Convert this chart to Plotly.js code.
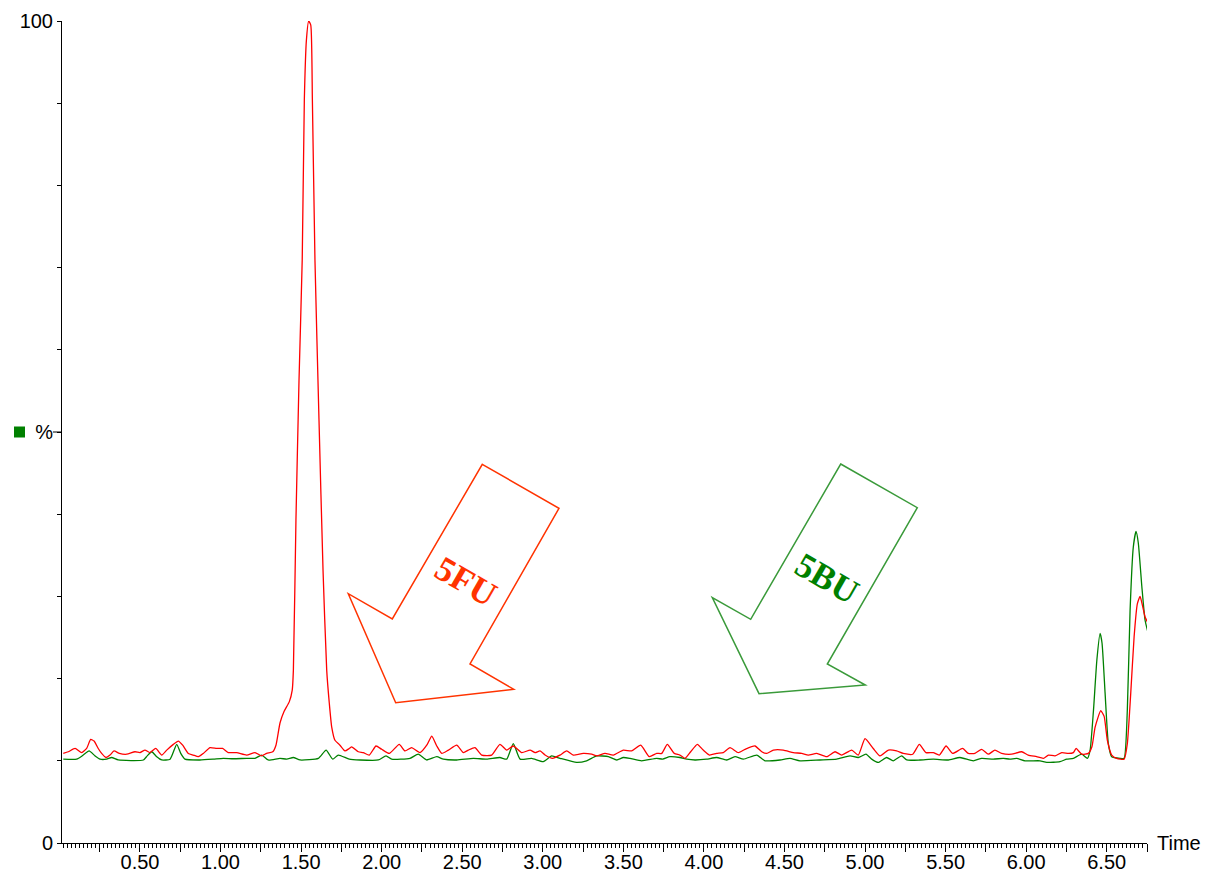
<!DOCTYPE html>
<html>
<head>
<meta charset="utf-8">
<script src="https://cdn.plot.ly/plotly-3.0.1.min.js"></script>
<style>
  html, body { margin: 0; padding: 0; background: #ffffff; }
  #chart { width: 1207px; height: 876px; }
</style>
</head>
<body>
<div id="chart"></div>
<script>
// ---- Data (time in minutes, relative intensity %) ----
const tRed = [0.024,0.055,0.097,0.138,0.169,0.194,0.215,0.241,0.262,0.289,0.314,0.339,0.372,0.418,0.469,0.500,0.531,0.562,0.598,0.635,0.666,0.707,0.738,0.765,0.800,0.831,0.862,0.893,0.935,0.976,1.013,1.048,1.100,1.162,1.214,1.255,1.286,1.324,1.344,1.369,1.394,1.427,1.445,1.452,1.468,1.487,1.507,1.520,1.533,1.547,1.560,1.570,1.586,1.611,1.636,1.659,1.675,1.690,1.710,1.741,1.772,1.799,1.814,1.855,1.886,1.923,1.965,2.000,2.047,2.109,2.145,2.186,2.238,2.283,2.311,2.342,2.373,2.414,2.466,2.507,2.538,2.579,2.621,2.683,2.734,2.776,2.817,2.869,2.921,2.952,2.983,3.014,3.061,3.107,3.148,3.189,3.251,3.303,3.335,3.386,3.438,3.500,3.552,3.608,3.661,3.707,3.738,3.773,3.816,3.851,3.883,3.918,3.959,3.996,4.034,4.079,4.120,4.162,4.213,4.255,4.317,4.359,4.390,4.431,4.493,4.555,4.607,4.648,4.700,4.762,4.814,4.855,4.917,4.958,5.000,5.051,5.093,5.145,5.196,5.237,5.296,5.337,5.378,5.424,5.461,5.503,5.544,5.606,5.641,5.682,5.724,5.765,5.806,5.848,5.910,5.972,6.013,6.065,6.107,6.138,6.179,6.221,6.262,6.293,6.310,6.345,6.386,6.408,6.428,6.463,6.484,6.504,6.531,6.562,6.608,6.628,6.649,6.670,6.690,6.707,6.724,6.738,6.755];
const pctRed = [10.9,11.1,11.5,11.0,11.5,12.6,12.4,11.5,10.9,10.4,10.7,11.2,10.9,10.8,11.1,11.0,11.3,11.0,11.5,10.7,11.3,12.0,12.4,11.9,10.9,10.7,10.5,10.9,11.6,11.5,11.5,11.0,11.0,10.7,11.0,10.6,10.9,11.1,11.9,14.6,16.0,17.2,18.6,21.0,39.3,56.3,71.0,90.4,97.7,100,99.5,90.4,70.9,51.5,33.2,21.0,17.0,14.1,12.5,11.9,11.2,11.5,11.7,11.1,11.0,10.7,11.8,11.4,10.9,12.0,11.2,11.6,11.0,12.0,13.0,11.8,10.9,11.3,11.9,11.0,11.3,11.6,10.7,10.7,12.0,11.3,11.8,11.0,11.3,11.0,11.2,10.7,10.3,10.7,11.2,10.7,10.9,10.8,10.6,10.9,10.7,11.3,11.2,11.9,10.5,10.9,10.9,12.0,10.9,10.7,10.3,11.1,12.0,11.3,10.7,10.9,11.0,11.6,11.0,11.4,11.8,11.1,10.9,11.3,11.3,11.0,10.9,10.7,10.9,10.5,11.1,10.7,11.3,10.7,12.7,11.5,10.6,11.3,11.2,10.9,10.8,12.0,11.0,11.0,10.7,11.8,10.9,11.5,10.9,10.9,11.4,10.8,11.3,10.9,10.8,11.1,10.7,10.5,10.3,10.7,10.6,11.0,10.9,11.0,11.5,10.8,10.9,11.7,14.1,16.1,15.4,12.5,10.7,10.3,10.2,12.1,18.2,25.1,29.1,30.0,28.7,27.5,26.8];

const tGreen = [0.024,0.107,0.148,0.184,0.221,0.252,0.293,0.324,0.365,0.521,0.545,0.573,0.604,0.635,0.687,0.728,0.753,0.779,0.872,0.955,1.017,1.079,1.162,1.214,1.255,1.296,1.369,1.411,1.452,1.493,1.607,1.655,1.696,1.731,1.799,1.866,1.979,2.027,2.062,2.176,2.227,2.279,2.342,2.383,2.466,2.569,2.652,2.734,2.776,2.817,2.859,2.931,3.003,3.055,3.107,3.210,3.272,3.335,3.407,3.459,3.500,3.541,3.614,3.707,3.744,3.789,3.851,3.893,3.945,4.017,4.079,4.141,4.193,4.245,4.328,4.379,4.472,4.534,4.596,4.720,4.824,4.907,4.958,5.006,5.041,5.082,5.134,5.175,5.227,5.259,5.341,5.424,5.517,5.589,5.672,5.724,5.796,5.858,5.899,5.941,5.993,6.086,6.128,6.210,6.252,6.293,6.345,6.380,6.397,6.418,6.439,6.459,6.471,6.490,6.510,6.531,6.583,6.608,6.628,6.645,6.665,6.682,6.696,6.718,6.738,6.759];
const pctGreen = [10.2,10.2,10.7,11.2,10.6,10.2,10.2,10.4,10.1,10.1,10.6,11.1,10.5,10.1,10.2,12.0,10.9,10.2,10.1,10.2,10.3,10.25,10.3,10.3,10.7,10.1,10.3,10.2,10.4,10.1,10.3,11.3,10.2,10.7,10.2,10.1,10.1,10.6,10.2,10.3,10.8,10.1,10.5,10.2,10.1,10.3,10.2,10.4,10.2,12.1,10.2,10.3,9.9,10.6,10.3,9.8,10.0,10.6,10.5,10.1,10.4,10.3,10.0,10.3,10.2,10.5,10.4,10.2,10.1,10.2,10.4,10.1,10.5,10.2,10.7,10.0,10.1,10.3,10.0,10.1,10.2,10.6,10.4,10.8,10.2,9.8,10.4,10.0,10.6,10.1,10.1,10.2,10.1,10.4,10.0,10.3,10.2,10.3,10.2,10.3,10.0,10.0,9.8,9.9,10.2,10.3,10.8,10.3,11.3,16.2,22.3,25.5,24.3,18.2,12.1,10.5,10.3,10.3,16.2,28.3,36.0,37.9,36.5,31.2,27.1,25.4];

const xMajorTicks = [0.25,0.50,0.75,1.00,1.25,1.50,1.75,2.00,2.25,2.50,2.75,3.00,3.25,3.50,3.75,4.00,4.25,4.50,4.75,5.00,5.25,5.50,5.75,6.00,6.25,6.50,6.75];
const xTickLabels = ["","0.50","","1.00","","1.50","","2.00","","2.50","","3.00","","3.50","","4.00","","4.50","","5.00","","5.50","","6.00","","6.50",""];
const yTickVals = [0,10,20,30,40,50,60,70,80,90,100];
const yTickLabels = ["0","","","","","%","","","","","100"];
const xLabel = "Time";
const arrowLabels = ["5FU", "5BU"];

// ---- Layout helpers (pixel -> paper) ----
const W = 1207, H = 876;
const M = {l: 62, r: 60, t: 21, b: 33};
const PW = W - M.l - M.r, PH = H - M.t - M.b;
const px = x => (x - M.l) / PW;
const py = y => (H - M.b - y) / PH;
function pathFrom(pts) {
  return pts.map((p, i) => (i ? 'L' : 'M') + px(p[0]).toFixed(5) + ',' + py(p[1]).toFixed(5)).join(' ') + ' Z';
}
const redArrow = [[482.3,464.3],[559,508.3],[470,664],[513.7,689.3],[395.7,702.7],[348.3,593.7],[392.3,619]];
const greenArrow = [[840.7,464],[917.3,507.7],[827.3,664],[865.3,685],[759,693.7],[712.3,597.7],[750.7,619.3]];

const traces = [
  {x: tGreen, y: pctGreen, type: 'scatter', mode: 'lines', line: {color: '#008000', width: 1.3, shape: 'spline', smoothing: 0.5}, hoverinfo: 'skip'},
  {x: tRed, y: pctRed, type: 'scatter', mode: 'lines', line: {color: '#ff0000', width: 1.3, shape: 'spline', smoothing: 0.5}, hoverinfo: 'skip'}
];

const axisFont = {family: 'Liberation Sans, Arial, Helvetica, sans-serif', size: 20, color: '#000'};

const layout = {
  width: W, height: H,
  margin: M,
  paper_bgcolor: '#ffffff', plot_bgcolor: '#ffffff',
  showlegend: false,
  font: axisFont,
  xaxis: {
    range: [0.016, 6.75],
    showline: true, linecolor: '#000', linewidth: 1,
    showgrid: false, zeroline: false,
    ticks: 'outside', ticklen: 8, tickcolor: '#000', tickwidth: 1,
    tickmode: 'array', tickvals: xMajorTicks, ticktext: xTickLabels,
    tickfont: axisFont, ticklabelstandoff: -7,
    minor: {tickmode: 'linear', tick0: 0, dtick: 0.025, ticks: 'outside', ticklen: 4, tickcolor: '#000', tickwidth: 1, showgrid: false}
  },
  yaxis: {
    range: [0, 100],
    showline: true, linecolor: '#000', linewidth: 1,
    showgrid: false, zeroline: false,
    ticks: 'outside', ticklen: 4, tickcolor: '#000', tickwidth: 1,
    tickmode: 'array', tickvals: yTickVals, ticktext: yTickLabels,
    tickfont: axisFont, ticklabelstandoff: 0
  },
  shapes: [
    {type: 'line', xref: 'paper', yref: 'y', x0: px(53), x1: 0, y0: 50, y1: 50, line: {color: '#000', width: 1}},
    {type: 'rect', xref: 'paper', yref: 'paper', x0: px(14), x1: px(25), y0: py(437.5), y1: py(426.5), fillcolor: '#008000', line: {width: 0}},
    {type: 'path', xref: 'paper', yref: 'paper', path: pathFrom(redArrow), line: {color: '#ff3300', width: 1.5}, fillcolor: 'rgba(0,0,0,0)'},
    {type: 'path', xref: 'paper', yref: 'paper', path: pathFrom(greenArrow), line: {color: '#3a9a3a', width: 1.5}, fillcolor: 'rgba(0,0,0,0)'}
  ],
  annotations: [
    {xref: 'paper', yref: 'paper', x: px(1155), y: py(843), xanchor: 'left', yanchor: 'middle', text: xLabel, showarrow: false, font: axisFont},
    {xref: 'paper', yref: 'paper', x: px(465.7), y: py(581), xanchor: 'center', yanchor: 'middle', text: arrowLabels[0], showarrow: false, textangle: 30,
     font: {family: 'Liberation Serif, Times New Roman, serif', size: 35, color: '#ff3300', weight: 'bold'}},
    {xref: 'paper', yref: 'paper', x: px(826.7), y: py(578.3), xanchor: 'center', yanchor: 'middle', text: arrowLabels[1], showarrow: false, textangle: 30,
     font: {family: 'Liberation Serif, Times New Roman, serif', size: 35, color: '#008000', weight: 'bold'}}
  ]
};

Plotly.newPlot('chart', traces, layout, {displayModeBar: false, staticPlot: true});
</script>
</body>
</html>
